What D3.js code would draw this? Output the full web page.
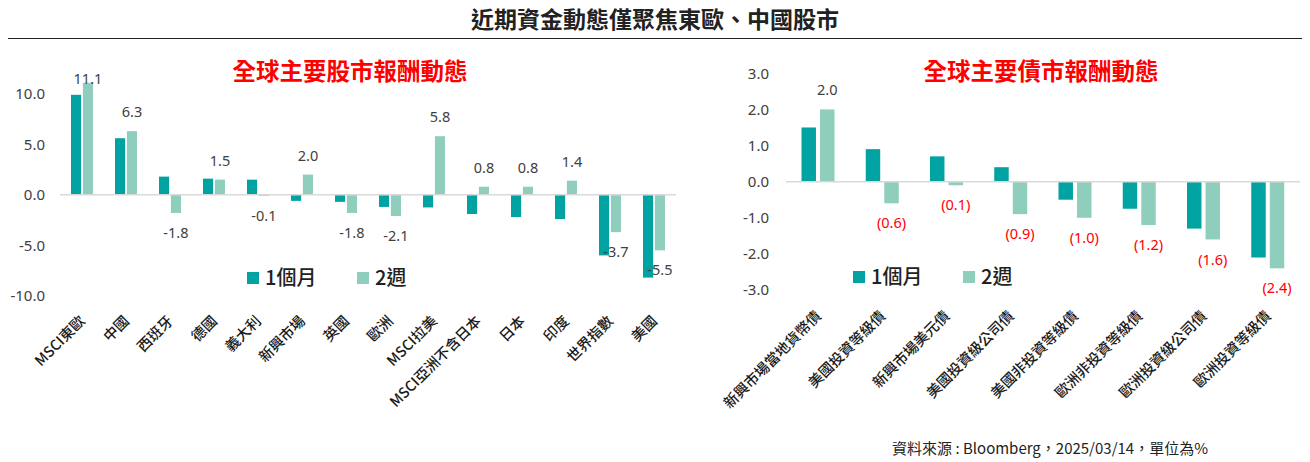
<!DOCTYPE html>
<html>
<head>
<meta charset="utf-8">
<script src="https://cdn.jsdelivr.net/npm/d3@7"></script>
<style>
  html, body { margin: 0; padding: 0; background: #fff; }
  svg { display: block; font-family: "Noto Sans CJK TC", "Noto Sans", sans-serif; }
</style>
</head>
<body>
<div id="chart"></div>
<script>
// chart data
const seriesNames = ['1個月', '2週'];

const stockCats = ['MSCI東歐', '中國', '西班牙', '德國', '義大利', '新興市場', '英國', '歐洲',
    'MSCI拉美', 'MSCI亞洲不含日本', '日本', '印度', '世界指數', '美國'];
const stock1m = [9.9, 5.6, 1.8, 1.6, 1.5, -0.6, -0.7, -1.2, -1.25, -1.9, -2.2, -2.4, -6.0, -8.2];
const stock2w = [11.1, 6.3, -1.8, 1.5, -0.1, 2.0, -1.8, -2.1, 5.8, 0.8, 0.8, 1.4, -3.7, -5.5];
const stockTicks = [-10, -5, 0, 5, 10];

const bondCats = ['新興市場當地貨幣債', '美國投資等級債', '新興市場美元債', '美國投資級公司債',
    '美國非投資等級債', '歐洲非投資等級債', '歐洲投資級公司債', '歐洲投資等級債'];
const bond1m = [1.5, 0.9, 0.7, 0.4, -0.5, -0.75, -1.3, -2.1];
const bond2w = [2.0, -0.6, -0.1, -0.9, -1.0, -1.2, -1.6, -2.4];
const bondTicks = [-3, -2, -1, 0, 1, 2, 3];

const colors = ['#00a3a1', '#8fcdbd'];

const W = 1310, H = 462;

const svg = d3.select('#chart')
    .append('svg')
    .attr('width', W)
    .attr('height', H);

// page title + rule
svg.append('text')
    .attr('x', 655)
    .attr('y', 27.5)
    .attr('text-anchor', 'middle')
    .attr('font-size', 23)
    .attr('font-weight', 'bold')
    .attr('fill', '#222')
    .text('近期資金動態僅聚焦東歐、中國股市');

svg.append('line')
    .attr('x1', 8).attr('x2', 1302)
    .attr('y1', 38.5).attr('y2', 38.5)
    .attr('stroke', '#222')
    .attr('stroke-width', 1);

function drawChart(opt) {
    const g = svg.append('g');

    const x0 = d3.scaleBand()
        .domain(opt.cats)
        .range([opt.left, opt.right]);

    const x1 = d3.scaleBand()
        .domain(seriesNames)
        .range(opt.inner)
        .paddingInner(opt.gap);

    const y = d3.scaleLinear()
        .domain(opt.domain)
        .range([opt.bottom, opt.top]);

    // y axis labels only
    const yAxis = d3.axisLeft(y)
        .tickValues(opt.ticks)
        .tickSize(0)
        .tickPadding(0)
        .tickFormat((d) => d.toFixed(1));

    const ya = g.append('g')
        .attr('transform', `translate(${opt.tickX},0)`)
        .call(yAxis);
    ya.select('.domain').remove();
    ya.selectAll('text')
        .attr('font-size', 15)
        .attr('fill', '#404040')
        .attr('font-family', '"Noto Sans", "Noto Sans CJK TC", sans-serif');

    // bars
    const rows = opt.cats.map((c, i) => ({cat: c, vals: [opt.s1[i], opt.s2[i]]}));

    const grp = g.selectAll('.grp')
        .data(rows)
        .enter()
        .append('g')
        .attr('transform', (d) => `translate(${x0(d.cat)},0)`);

    grp.selectAll('rect')
        .data((d) => d.vals.map((v, k) => ({key: seriesNames[k], v: v, k: k})))
        .enter()
        .append('rect')
        .attr('x', (d) => x1(d.key))
        .attr('width', x1.bandwidth())
        .attr('y', (d) => y(Math.max(0, d.v)))
        .attr('height', (d) => Math.abs(y(d.v) - y(0)))
        .attr('fill', (d) => colors[d.k]);

    // zero line
    g.append('line')
        .attr('x1', opt.left).attr('x2', opt.right)
        .attr('y1', y(0)).attr('y2', y(0))
        .attr('stroke', '#d9d9d9')
        .attr('stroke-width', 1.5);

    // value labels on the 2-week series
    grp.append('text')
        .attr('x', x1(seriesNames[1]) + x1.bandwidth() / 2)
        .attr('y', (d) => {
            const v = d.vals[1];
            return v >= 0 ? Math.max(y(v) - 19, opt.labelMin) : y(v) + 20;
        })
        .attr('dy', '0.35em')
        .attr('text-anchor', 'middle')
        .attr('font-size', 14.5)
        .attr('font-family', '"Noto Sans", "Noto Sans CJK TC", sans-serif')
        .attr('fill', (d) => (d.vals[1] < 0 && opt.paren) ? '#ff0000' : '#404040')
        .text((d) => {
            const v = d.vals[1];
            if (v < 0 && opt.paren) return `(${Math.abs(v).toFixed(1)})`;
            return v.toFixed(1);
        });

    // category labels, rotated
    g.selectAll('.cat')
        .data(opt.cats)
        .enter()
        .append('text')
        .attr('transform', (d) => `translate(${x0(d) + x0.bandwidth() / 2 + 4},${opt.catY}) rotate(-45)`)
        .attr('text-anchor', 'end')
        .attr('font-size', 14.5)
        .attr('font-weight', 500)
        .attr('fill', '#1a1a1a')
        .text((d) => d);

    // chart title
    g.append('text')
        .attr('x', opt.titleX)
        .attr('y', 80)
        .attr('text-anchor', 'middle')
        .attr('font-size', 23.5)
        .attr('font-weight', 'bold')
        .attr('fill', '#ff0000')
        .text(opt.title);

    // legend
    const lg = g.append('g')
        .attr('transform', `translate(${opt.legendX},${opt.legendY})`);
    seriesNames.forEach((name, k) => {
        const item = lg.append('g').attr('transform', `translate(${k * 110},0)`);
        item.append('rect')
            .attr('x', 0).attr('y', -6)
            .attr('width', 12).attr('height', 12)
            .attr('fill', colors[k]);
        item.append('text')
            .attr('x', 18)
            .attr('y', 0)
            .attr('dy', '0.36em')
            .attr('font-size', 20)
            .attr('font-weight', 500)
            .attr('fill', '#222')
            .text(name);
    });
}

drawChart({
    cats: stockCats, s1: stock1m, s2: stock2w,
    domain: [-10, 10], ticks: stockTicks,
    left: 60, right: 676, top: 93.8, bottom: 295.8,
    inner: [11, 33], gap: 0.15, tickX: 45,
    labelMin: 79, paren: false, catY: 322,
    title: '全球主要股市報酬動態', titleX: 350,
    legendX: 247, legendY: 278
});

drawChart({
    cats: bondCats, s1: bond1m, s2: bond2w,
    domain: [-3, 3], ticks: bondTicks,
    left: 786, right: 1300, top: 73.3, bottom: 290,
    inner: [15.5, 48.5], gap: 0.22, tickX: 769,
    labelMin: 0, paren: true, catY: 317,
    title: '全球主要債市報酬動態', titleX: 1041,
    legendX: 853, legendY: 277
});

// source note
svg.append('text')
    .attr('x', 1208)
    .attr('y', 449)
    .attr('dy', '0.35em')
    .attr('text-anchor', 'end')
    .attr('font-size', 15)
    .attr('fill', '#222')
    .text('資料來源 : Bloomberg，2025/03/14，單位為%');
</script>
</body>
</html>
